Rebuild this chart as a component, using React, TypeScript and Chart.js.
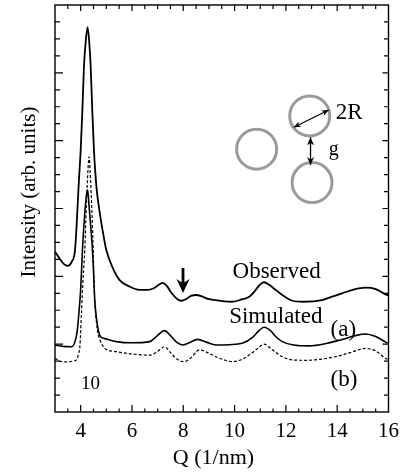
import React, { useEffect, useRef } from 'react';
import { Chart, registerables } from 'chart.js';

Chart.register(...registerables);

// ---------- data ----------
const qObserved = [3.0, 3.2, 3.35, 3.5, 3.65, 3.78, 3.86, 3.93, 4.0, 4.07, 4.13, 4.2, 4.27, 4.33, 4.39, 4.45, 4.52, 4.62, 4.75, 4.88, 5.0, 5.25, 5.52, 5.9, 6.3, 6.6, 6.85, 7.05, 7.2, 7.35, 7.55, 7.75, 7.92, 8.1, 8.3, 8.5, 8.75, 9.0, 9.27, 9.6, 9.9, 10.2, 10.57, 10.8, 10.98, 11.15, 11.35, 11.6, 11.86, 12.25, 12.7, 13.41, 13.8, 14.19, 14.6, 15.1, 15.5, 15.93, 16.0];
const observed = [9.45, 9.0, 8.72, 8.62, 8.85, 9.55, 11.5, 13.6, 15.4, 17.9, 20.4, 21.9, 22.7, 21.9, 20.4, 17.9, 15.4, 13.2, 11.7, 10.5, 9.55, 8.5, 7.78, 7.4, 7.2, 7.2, 7.3, 7.5, 7.62, 7.45, 7.0, 6.68, 6.56, 6.65, 6.85, 6.9, 6.8, 6.65, 6.6, 6.52, 6.5, 6.6, 6.8, 7.15, 7.5, 7.65, 7.5, 7.2, 6.9, 6.56, 6.5, 6.6, 6.8, 7.0, 7.2, 7.33, 7.25, 6.9, 6.88];

const qSimA = [3.0, 3.3, 3.65, 3.78, 3.87, 3.94, 4.0, 4.07, 4.15, 4.22, 4.27, 4.32, 4.39, 4.46, 4.51, 4.55, 4.62, 4.68, 4.75, 4.9, 5.13, 5.39, 6.0, 6.69, 6.95, 7.27, 7.5, 7.75, 7.98, 8.25, 8.56, 8.9, 9.27, 9.8, 10.3, 10.7, 10.95, 11.15, 11.4, 11.6, 11.86, 12.3, 12.9, 13.6, 14.19, 14.7, 15.1, 15.5, 15.93, 16.0];
const simulatedA = [3.95, 3.87, 3.85, 4.15, 4.83, 6.0, 7.2, 9.55, 11.5, 12.7, 13.1, 12.3, 11.0, 9.55, 8.0, 6.6, 5.5, 4.9, 4.5, 4.35, 4.25, 4.15, 4.08, 4.15, 4.45, 4.8, 4.5, 4.1, 3.95, 4.1, 4.28, 4.12, 3.95, 3.97, 4.05, 4.4, 4.8, 5.0, 4.8, 4.45, 4.15, 3.95, 3.9, 4.05, 4.28, 4.5, 4.6, 4.45, 4.09, 4.05];

const qSimB = [3.0, 3.25, 3.52, 3.7, 3.84, 3.92, 3.97, 4.03, 4.1, 4.16, 4.23, 4.29, 4.33, 4.37, 4.42, 4.49, 4.52, 4.55, 4.62, 4.68, 4.75, 4.94, 5.39, 6.0, 6.69, 6.98, 7.27, 7.5, 7.75, 8.04, 8.3, 8.63, 8.95, 9.27, 9.6, 9.9, 10.25, 10.57, 10.9, 11.15, 11.45, 11.86, 12.25, 12.8, 13.93, 14.5, 15.1, 15.5, 15.93, 16.0];
const simulatedB = [3.17, 2.98, 2.95, 3.0, 3.07, 3.45, 3.85, 5.8, 8.0, 9.55, 12.5, 14.4, 15.05, 14.2, 12.5, 9.55, 7.6, 6.5, 5.2, 4.6, 4.25, 3.75, 3.56, 3.42, 3.35, 3.55, 3.85, 3.5, 3.12, 2.97, 3.2, 3.66, 3.5, 3.26, 3.07, 2.97, 3.08, 3.36, 3.75, 4.0, 3.7, 3.26, 3.07, 3.05, 3.26, 3.5, 3.75, 3.6, 3.12, 3.08];

const xTickValues = [4, 6, 8, 10, 12, 14, 16];
const xTickLabels = ['4', '6', '8', '10', '12', '14', '16'];

const X_MIN = 3;
const X_MAX = 16;
const Y_MIN = 0;
const Y_MAX = 24;

const SERIF = "'Liberation Serif', 'Times New Roman', serif";
const font = (size: number) => `${size}px ${SERIF}`;

const textNotes = [
  { text: 'Observed', q: 9.92, v: 7.9, size: 23 },
  { text: 'Simulated', q: 9.79, v: 5.23, size: 23 },
  { text: '(a)', q: 13.74, v: 4.48, size: 23 },
  { text: '(b)', q: 13.74, v: 1.53, size: 23 },
  { text: '10', q: 4.01, v: 1.34, size: 19 },
  { text: '2R', q: 13.94, v: 17.3, size: 23 },
  { text: 'g', q: 13.67, v: 15.15, size: 20 },
];

const circles = [
  { q: 10.86, v: 15.5 },
  { q: 12.93, v: 17.46 },
  { q: 13.02, v: 13.53 },
];

function head(ctx: CanvasRenderingContext2D, x1: number, y1: number, x2: number, y2: number, len: number, half: number) {
  const a = Math.atan2(y2 - y1, x2 - x1);
  const c = Math.cos(a), s = Math.sin(a);
  ctx.beginPath();
  ctx.moveTo(x2, y2);
  ctx.lineTo(x2 - len * c + half * s, y2 - len * s - half * c);
  ctx.lineTo(x2 - len * 0.7 * c, y2 - len * 0.7 * s);
  ctx.lineTo(x2 - len * c - half * s, y2 - len * s + half * c);
  ctx.closePath();
  ctx.fill();
}

const framePlugin = {
  id: 'framePlugin',
  afterDatasetsDraw(chart: any) {
    const { ctx, chartArea: a, scales } = chart;
    const xs = scales.x, ys = scales.y;
    ctx.save();
    ctx.strokeStyle = '#000';
    ctx.fillStyle = '#000';
    ctx.lineWidth = 1.4;
    ctx.strokeRect(a.left, a.top, a.right - a.left, a.bottom - a.top);

    // x ticks (inward)
    ctx.lineWidth = 1.2;
    ctx.beginPath();
    for (let k = 7; k <= 31; k++) {
      const v = k / 2;
      const px = xs.getPixelForValue(v);
      const major = k % 4 === 0;
      ctx.moveTo(px, a.bottom);
      ctx.lineTo(px, a.bottom - (major ? 7 : 3.5));
      ctx.moveTo(px, a.top);
      ctx.lineTo(px, a.top + (major ? 6 : 4));
    }
    // y ticks (inward)
    for (let v = Y_MIN + 1; v < Y_MAX; v++) {
      const py = ys.getPixelForValue(v);
      const major = v % 4 === 0;
      ctx.moveTo(a.left, py);
      ctx.lineTo(a.left + (major ? 8 : 5), py);
      ctx.moveTo(a.right, py);
      ctx.lineTo(a.right - (major ? 6 : 4.5), py);
    }
    ctx.stroke();

    // inset circles
    ctx.strokeStyle = '#9a9a9a';
    ctx.lineWidth = 3;
    for (const c of circles) {
      ctx.beginPath();
      ctx.arc(xs.getPixelForValue(c.q), ys.getPixelForValue(c.v), 20, 0, Math.PI * 2);
      ctx.stroke();
    }

    // 2R arrow
    ctx.strokeStyle = '#000';
    ctx.fillStyle = '#000';
    ctx.lineWidth = 1.3;
    {
      const x1 = xs.getPixelForValue(12.31), y1 = ys.getPixelForValue(16.79);
      const x2 = xs.getPixelForValue(13.67), y2 = ys.getPixelForValue(17.81);
      ctx.beginPath(); ctx.moveTo(x1, y1); ctx.lineTo(x2, y2); ctx.stroke();
      head(ctx, x1, y1, x2, y2, 7, 3);
      head(ctx, x2, y2, x1, y1, 7, 3);
    }
    // g arrow
    {
      const x = xs.getPixelForValue(12.96);
      const y1 = ys.getPixelForValue(16.2), y2 = ys.getPixelForValue(14.56);
      ctx.beginPath(); ctx.moveTo(x, y1); ctx.lineTo(x, y2); ctx.stroke();
      head(ctx, x, (y1 + y2) / 2, x, y1, 8, 3.5);
      head(ctx, x, (y1 + y2) / 2, x, y2, 8, 3.5);
    }
    // big arrow at Q ~ 8
    {
      const x = xs.getPixelForValue(7.99);
      const yTop = ys.getPixelForValue(8.49), yTip = ys.getPixelForValue(7.02);
      ctx.lineWidth = 2.8;
      ctx.beginPath(); ctx.moveTo(x, yTop); ctx.lineTo(x, yTip - 8); ctx.stroke();
      head(ctx, x, yTop, x, yTip, 14, 6.5);
    }

    // annotation texts
    ctx.textAlign = 'left';
    ctx.textBaseline = 'alphabetic';
    for (const t of textNotes) {
      ctx.font = font(t.size);
      ctx.fillText(t.text, xs.getPixelForValue(t.q), ys.getPixelForValue(t.v));
    }

    // axis titles
    ctx.font = font(22);
    ctx.textAlign = 'center';
    ctx.textBaseline = 'middle';
    ctx.fillText('Q (1/nm)', 213.5, 458);
    ctx.save();
    ctx.translate(29, 192);
    ctx.rotate(-Math.PI / 2);
    ctx.font = font(21);
    ctx.fillText('Intensity (arb. units)', 0, 0);
    ctx.restore();
    ctx.restore();
  },
};

const toPoints = (xs: number[], ys: number[]) => xs.map((x, i) => ({ x, y: ys[i] }));

export default function App() {
  const ref = useRef<HTMLCanvasElement | null>(null);
  useEffect(() => {
    document.body.style.margin = '0';
    if (!ref.current) return;
    const chart = new Chart(ref.current, {
      type: 'line',
      data: {
        datasets: [
          {
            label: 'Observed',
            data: toPoints(qObserved, observed),
            borderColor: '#000',
            borderWidth: 1.8,
            pointRadius: 0,
            cubicInterpolationMode: 'monotone',
          },
          {
            label: 'Simulated (a)',
            data: toPoints(qSimA, simulatedA),
            borderColor: '#000',
            borderWidth: 1.6,
            pointRadius: 0,
            cubicInterpolationMode: 'monotone',
          },
          {
            label: 'Simulated (b)',
            data: toPoints(qSimB, simulatedB),
            borderColor: '#000',
            borderWidth: 1.2,
            borderDash: [3, 2],
            pointRadius: 0,
            cubicInterpolationMode: 'monotone',
          },
        ],
      },
      options: {
        responsive: false,
        animation: false,
        layout: { padding: { top: 5, right: 16, left: 0, bottom: 0 } },
        plugins: { legend: { display: false }, tooltip: { enabled: false }, title: { display: false } },
        scales: {
          x: {
            type: 'linear',
            min: X_MIN,
            max: X_MAX,
            position: 'bottom',
            grid: { display: false, drawTicks: false },
            border: { display: false },
            afterBuildTicks: (s: any) => {
              s.ticks = xTickValues.map((v) => ({ value: v }));
            },
            ticks: {
              autoSkip: false,
              maxRotation: 0,
              padding: 7,
              color: '#000',
              font: { family: SERIF, size: 21 },
              callback: (v: any) => {
                const i = xTickValues.indexOf(Number(v));
                return i >= 0 ? xTickLabels[i] : '';
              },
            },
            afterFit: (s: any) => {
              s.height = 60;
            },
          },
          y: {
            type: 'linear',
            min: Y_MIN,
            max: Y_MAX,
            grid: { display: false, drawTicks: false },
            border: { display: false },
            ticks: { display: false },
            afterFit: (s: any) => {
              s.width = 55;
            },
          },
        },
      },
      plugins: [framePlugin],
    } as any);
    return () => chart.destroy();
  }, []);
  return (
    <div style={{ width: 406, height: 472, background: '#fff' }}>
      <canvas ref={ref} width={406} height={472} style={{ display: 'block' }} />
    </div>
  );
}
